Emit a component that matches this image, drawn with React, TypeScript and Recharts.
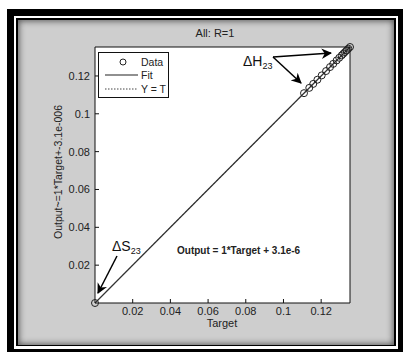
import { ComposedChart, Scatter, Line, XAxis, YAxis, CartesianGrid, Legend } from 'recharts';

// regression plot values (Target vs Output)
const targets = [0, 0.1109, 0.1137, 0.1158, 0.118, 0.1203, 0.1226, 0.1247, 0.1264, 0.1282, 0.1296, 0.1309, 0.1317, 0.1326, 0.1335, 0.1344, 0.1353];
const outputs = [0, 0.1109, 0.1137, 0.1158, 0.118, 0.1203, 0.1226, 0.1247, 0.1264, 0.1282, 0.1296, 0.1309, 0.1317, 0.1326, 0.1335, 0.1344, 0.1353];
const fitX = [0, 0.1353];
const fitY = [0.0000031, 0.1353031];
const xTicks = [0.02, 0.04, 0.06, 0.08, 0.1, 0.12];
const yTicks = [0.02, 0.04, 0.06, 0.08, 0.1, 0.12];
const domainMax = 0.1353;
const legendItems = ['Data', 'Fit', 'Y = T'];

const font = '"Liberation Sans", Arial, sans-serif';

const scatterData = targets.map((t, i) => ({ x: t, y: outputs[i] }));
const fitData = fitX.map((x, i) => ({ x, y: fitY[i] }));
const identityData = fitX.map((x) => ({ x, y: x }));

const tickStyle = { fill: '#222', fontSize: 11, fontFamily: font };

function LegendBox() {
  return (
    <div
      style={{
        width: 71,
        height: 46,
        boxSizing: 'border-box',
        border: '1px solid #111',
        background: '#fff',
        fontFamily: font,
        fontSize: 10.5,
        color: '#222',
        whiteSpace: 'nowrap',
        overflow: 'visible',
      }}
    >
      {legendItems.map((name, i) => (
        <div key={name} style={{ display: 'flex', alignItems: 'center', height: 13.5, marginTop: i === 0 ? 2 : 0 }}>
          <svg width={40} height={12} style={{ flex: 'none' }}>
            {i === 0 && <circle cx={24} cy={6} r={3} fill="none" stroke="#222" />}
            {i === 1 && <line x1={6} x2={39} y1={6} y2={6} stroke="#222" strokeWidth={1.2} />}
            {i === 2 && <line x1={6} x2={39} y1={6} y2={6} stroke="#444" strokeDasharray="1.5 1.5" />}
          </svg>
          <span style={{ marginLeft: 2 }}>{name}</span>
        </div>
      ))}
    </div>
  );
}

export default function App() {
  return (
    <div style={{ position: 'absolute', left: 0, top: 0, width: 404, height: 355, background: '#fff' }}>
      {/* picture frame */}
      <div style={{ position: 'absolute', left: 7, top: 9, width: 396, height: 343, background: '#000' }} />
      <div style={{ position: 'absolute', left: 14, top: 16, width: 384, height: 333, background: '#fff' }} />
      <div style={{ position: 'absolute', left: 16, top: 18, width: 380, height: 328, background: '#000' }} />
      <div
        style={{
          position: 'absolute',
          left: 18,
          top: 20,
          width: 376,
          height: 325,
          background: '#cecece',
          boxShadow: 'inset 0 0 6px 1px #555',
        }}
      />

      <div style={{ position: 'absolute', left: 0, top: 0 }}>
        <ComposedChart width={404} height={355} margin={{ top: 37, right: 44, bottom: 22, left: 55 }}>
          <CartesianGrid horizontal={false} vertical={false} fill="#fff" />
          <XAxis
            dataKey="x"
            type="number"
            domain={[0, domainMax]}
            ticks={xTicks}
            tickFormatter={(v) => String(v)}
            height={30}
            tickSize={-4}
            tickMargin={8}
            axisLine={{ stroke: '#111' }}
            tickLine={{ stroke: '#111' }}
            tick={tickStyle}
          />
          <XAxis
            xAxisId="top"
            orientation="top"
            type="number"
            domain={[0, domainMax]}
            ticks={xTicks}
            height={10}
            tickSize={-4}
            tick={false}
            axisLine={{ stroke: '#111' }}
            tickLine={{ stroke: '#111' }}
          />
          <YAxis
            dataKey="y"
            type="number"
            domain={[0, domainMax]}
            ticks={yTicks}
            tickFormatter={(v) => String(v)}
            width={40}
            tickSize={-4}
            tickMargin={9}
            axisLine={{ stroke: '#111' }}
            tickLine={{ stroke: '#111' }}
            tick={tickStyle}
          />
          <YAxis
            yAxisId="right"
            orientation="right"
            type="number"
            domain={[0, domainMax]}
            ticks={yTicks}
            width={10}
            tickSize={-4}
            tick={false}
            axisLine={{ stroke: '#111' }}
            tickLine={{ stroke: '#111' }}
          />
          <Line
            data={identityData}
            dataKey="y"
            stroke="#444"
            strokeDasharray="2 2"
            dot={false}
            isAnimationActive={false}
          />
          <Line data={fitData} dataKey="y" stroke="#333" strokeWidth={1.2} dot={false} isAnimationActive={false} />
          <Scatter
            data={scatterData}
            isAnimationActive={false}
            shape={(p: any) => <circle cx={p.cx} cy={p.cy} r={3.5} fill="none" stroke="#222" strokeWidth={1} />}
          />
          <Legend
            layout="vertical"
            align="center"
            verticalAlign="middle"
            content={() => <LegendBox />}
            wrapperStyle={{ left: 98, top: 52, width: 71, height: 46 }}
          />
        </ComposedChart>
      </div>

      {/* titles and annotations */}
      <svg width={404} height={355} style={{ position: 'absolute', left: 0, top: 0, pointerEvents: 'none' }}>
        <defs>
          <marker id="head" viewBox="0 0 10 10" refX={9} refY={5} markerWidth={7} markerHeight={7} orient="auto">
            <path d="M0,0 L10,5 L0,10 L3,5 z" fill="#000" />
          </marker>
        </defs>
        <text x={215} y={37} textAnchor="middle" fontFamily={font} fontSize={11} fill="#222">
          All: R=1
        </text>
        <text x={222} y={327} textAnchor="middle" fontFamily={font} fontSize={11} fill="#222">
          Target
        </text>
        <text
          transform="translate(62,172) rotate(-90)"
          textAnchor="middle"
          fontFamily={font}
          fontSize={10.5}
          fill="#222"
        >
          Output~=1*Target+-3.1e-006
        </text>
        <text x={243} y={66} fontFamily={font} fontSize={14} fill="#111">
          ΔH
          <tspan fontSize={9} dy={3}>23</tspan>
        </text>
        <line x1={273} y1={57} x2={331} y2={53} stroke="#000" strokeWidth={1.5} markerEnd="url(#head)" />
        <line x1={273} y1={57} x2={301} y2={83} stroke="#000" strokeWidth={1.5} markerEnd="url(#head)" />
        <text x={112} y={251} fontFamily={font} fontSize={14} fill="#111">
          ΔS
          <tspan fontSize={9} dy={3}>23</tspan>
        </text>
        <line x1={117} y1={256} x2={98} y2={293} stroke="#000" strokeWidth={1.5} markerEnd="url(#head)" />
        <text x={177} y={254} fontFamily={font} fontSize={10} fontWeight="bold" fill="#222">
          Output = 1*Target + 3.1e-6
        </text>
      </svg>
    </div>
  );
}
